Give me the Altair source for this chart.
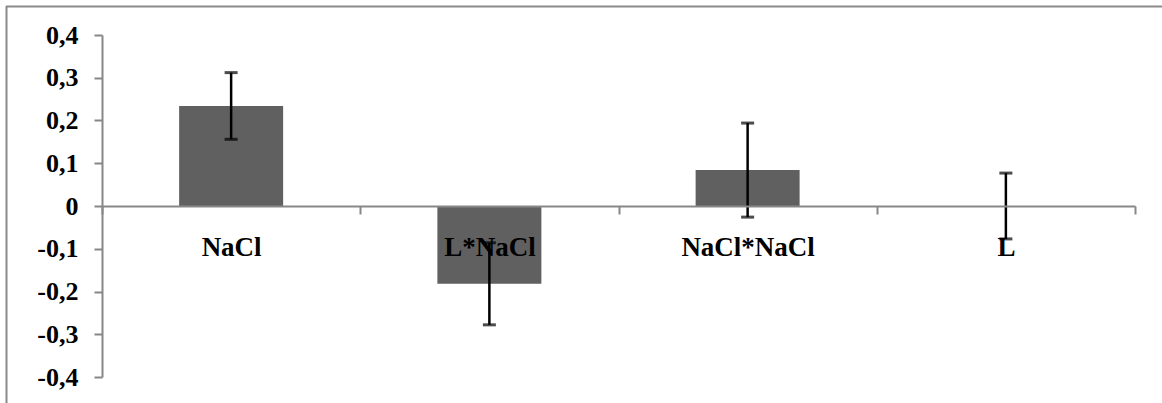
import altair as alt
import pandas as pd

# Effects and their error margins
factors = ["NaCl", "L*NaCl", "NaCl*NaCl", "L"]
effects = [0.234, -0.182, 0.084, 0.0]
errors = [0.078, 0.096, 0.110, 0.077]
y_ticks = [-0.4, -0.3, -0.2, -0.1, 0.0, 0.1, 0.2, 0.3, 0.4]

df = pd.DataFrame({"factor": factors, "effect": effects, "err": errors})
df["lo"] = df["effect"] - df["err"]
df["hi"] = df["effect"] + df["err"]

FONT = "Liberation Serif"
AXIS_GREY = "#878787"

W, H = 1033, 342
PAD = {"left": 102, "top": 35, "right": 27, "bottom": 26}

x_enc = alt.X(
    "factor:N",
    sort=factors,
    scale=alt.Scale(paddingInner=0, paddingOuter=0),
    axis=alt.Axis(
        title=None,
        orient="bottom",
        offset=-(H / 2),
        tickBand="extent",
        labelFontSize=27,
        labelPadding=20,
        labelAngle=0,
        zindex=1,
    ),
)

y_scale = alt.Scale(domain=[-0.4, 0.4], nice=False, zero=False)

bars = alt.Chart(df).mark_bar(size=104, color="#606060").encode(
    x=x_enc,
    y=alt.Y(
        "effect:Q",
        scale=y_scale,
        axis=alt.Axis(
            title=None,
            values=y_ticks,
            grid=False,
            labelFontSize=26,
            labelPadding=16,
            labelExpr="(datum.value < -0.0001 ? '-' : '') + (abs(datum.value) < 0.0001 ? '0' : replace(format(abs(datum.value), '.1f'), '.', ','))",
        ),
    ),
    y2=alt.datum(0),
)

whisker = alt.Chart(df).mark_rule(color="black", strokeWidth=2.5).encode(
    x=alt.X("factor:N", sort=factors),
    y=alt.Y("lo:Q", scale=y_scale),
    y2="hi:Q",
)

cap_lo = alt.Chart(df).mark_tick(color="black", size=13, thickness=3).encode(
    x=alt.X("factor:N", sort=factors),
    y=alt.Y("lo:Q", scale=y_scale),
)
cap_hi = alt.Chart(df).mark_tick(color="black", size=13, thickness=3).encode(
    x=alt.X("factor:N", sort=factors),
    y=alt.Y("hi:Q", scale=y_scale),
)

# Outer frame of the figure (top and left edges)
frame_src = alt.Data(values=[{}])
frame_top = alt.Chart(frame_src).mark_rule(color="#8a8a8a", strokeWidth=2).encode(
    x=alt.value(-96), x2=alt.value(W + PAD["right"]), y=alt.value(-28.5)
)
frame_left = alt.Chart(frame_src).mark_rule(color="#8a8a8a", strokeWidth=2).encode(
    x=alt.value(-95.5), y=alt.value(-29), y2=alt.value(H + PAD["bottom"])
)

chart = (
    alt.layer(bars, whisker, cap_lo, cap_hi, frame_top, frame_left)
    .properties(
        width=W,
        height=H,
        padding=PAD,
        autosize=alt.AutoSizeParams(type="none"),
        background="white",
    )
    .configure_view(stroke=None)
    .configure_axis(
        labelFont=FONT,
        labelFontWeight="bold",
        labelColor="black",
        tickSize=8,
        tickColor=AXIS_GREY,
        tickWidth=2,
        domainColor=AXIS_GREY,
        domainWidth=2,
    )
)

chart.save("out.html", embed_options={"renderer": "svg", "actions": False})
